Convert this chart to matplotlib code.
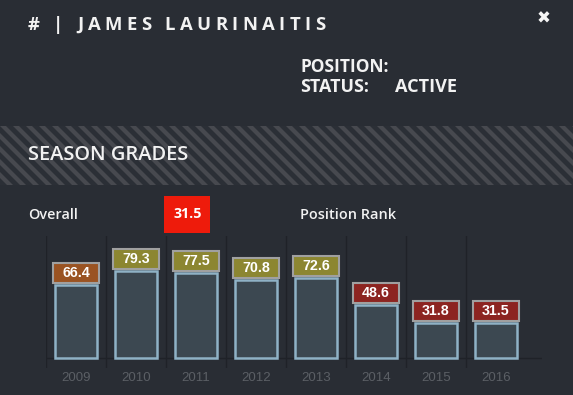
import matplotlib
matplotlib.use("Agg")
import matplotlib.pyplot as plt
from matplotlib.patches import Rectangle, Polygon
import numpy as np

# ---- data ----
seasons = ["2009", "2010", "2011", "2012", "2013", "2014", "2015", "2016"]
grades = [66.4, 79.3, 77.5, 70.8, 72.6, 48.6, 31.8, 31.5]
label_colors = ["#9a5322", "#8c8631", "#8c8631", "#8c8631", "#8c8631",
                "#8c2420", "#8c2420", "#8c2420"]
overall_grade = "31.5"
player_title = "# | JAMES LAURINAITIS"
status_value = "ACTIVE"

W, H = 573, 395
BG = "#292d34"
fig = plt.figure(figsize=(W / 100, H / 100), dpi=100, facecolor=BG)
renderer = fig.canvas.get_renderer()

bg = fig.add_axes([0, 0, 1, 1])
bg.set_xlim(0, W)
bg.set_ylim(H, 0)
bg.axis("off")

# striped band
y0, y1 = 126, 185
h = y1 - y0
band = Rectangle((0, y0), W, h, facecolor="#2b2f36", edgecolor="none", zorder=1)
bg.add_patch(band)
period = 13.0
sw = 6.0
for k in range(-10, 60):
    xs = k * period
    poly = Polygon([(xs, y0), (xs + sw, y0), (xs + sw + h, y1), (xs + h, y1)],
                   closed=True, facecolor="#47494f", edgecolor="none", zorder=2)
    poly.set_clip_path(band)
    bg.add_patch(poly)

FONT = "Open Sans"


def fit_text(x, y, s, target_w, size0, **kw):
    t = bg.text(x, y, s, fontsize=size0, **kw)
    w = t.get_window_extent(renderer).width
    t.set_fontsize(size0 * target_w / w)
    return t


# letter-spaced title
tsize = 13.3
chars = []
widths = []
for ch in player_title:
    t = bg.text(0, 25, ch, color="#f2f2f2", fontsize=tsize, fontweight="bold",
                family=FONT, va="center", ha="left", zorder=5)
    widths.append(t.get_window_extent(renderer).width)
    chars.append(t)
track = (297 - sum(widths)) / (len(chars) - 1)
xx = 28
for t, w in zip(chars, widths):
    t.set_x(xx)
    xx += w + track

bg.text(544, 19, "\u2716", color="#f5f5f5", fontsize=12, family="DejaVu Sans",
        va="center", ha="center", zorder=5)

hk = dict(color="#f2f2f2", fontweight="bold", family=FONT, va="center", ha="left", zorder=5)
fit_text(300, 67, "POSITION:", 89, 12, **hk)
fit_text(300, 87, "STATUS:", 69, 12, **hk)
fit_text(395, 87, status_value, 62, 12, **hk)
fit_text(28, 155, "SEASON GRADES", 160, 13, color="#f2f2f2", fontweight="semibold",
         family=FONT, va="center", ha="left", zorder=5)
sk = dict(color="#f2f2f2", fontweight="semibold", family=FONT, va="center", ha="left", zorder=5)
fit_text(28, 215, "Overall", 50, 10.5, **sk)
fit_text(300, 215, "Position Rank", 96, 10.5, **sk)
bg.add_patch(Rectangle((164, 196), 46, 37, facecolor="#ee1b0b", edgecolor="none", zorder=5))
bg.text(187.5, 214.5, overall_grade, fontsize=10.3, color="#ffffff", fontweight="bold",
        family=FONT, va="center", ha="center", zorder=6)

# ---- chart axes ----
px_per_unit = 1.1
base_y = 358
ax_left, ax_right = 46, 542
ax_top, ax_bot = 236, 368
xmin = -0.5
xmax = xmin + (ax_right - ax_left) / 60.0
ymax = (base_y - ax_top) / px_per_unit
ymin = -(ax_bot - base_y) / px_per_unit
ax = fig.add_axes([ax_left / W, 1 - ax_bot / H, (ax_right - ax_left) / W, (ax_bot - ax_top) / H])
ax.patch.set_alpha(0)
ax.set_xlim(xmin, xmax)
ax.set_ylim(ymin, ymax)
for s in ax.spines.values():
    s.set_visible(False)

x = np.arange(len(seasons))
for xi in x:
    ax.axvline(xi - 0.5, color="#1f2228", lw=1, zorder=1)
ax.axhline(0, color="#1f2228", lw=1, zorder=1)

ax.bar(x, grades, width=0.7, color="#3c4851", edgecolor="#8fb2c6", linewidth=1.8, zorder=3)

box_h = 20 / px_per_unit
gap = 2 / px_per_unit
bw = 46 / 60.0
for xi, v, c in zip(x, grades, label_colors):
    ax.add_patch(Rectangle((xi - bw / 2, v + gap), bw, box_h, facecolor=c,
                           edgecolor="#a0a0a0", linewidth=1.5, zorder=4))
    ax.text(xi, v + gap + box_h / 2, f"{v:.1f}", color="#ffffff", fontsize=10.3,
            fontweight="bold", family="Liberation Sans", ha="center", va="center", zorder=5)

ax.set_xticks(x)
ax.set_xticklabels(seasons, color="#5b5f65", fontsize=9.5, family="Liberation Sans")
ax.tick_params(axis="x", length=0, pad=3)
ax.set_yticks([])

fig.savefig("out.png", dpi=100, facecolor=BG)
